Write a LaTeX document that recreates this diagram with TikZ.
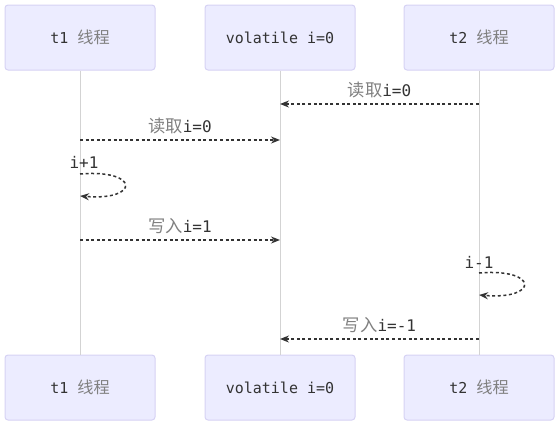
\documentclass[tikz,border=0pt]{standalone}
\usepackage{fontspec}
\setmonofont{DejaVu Sans Mono}
\newfontfamily\cjk[Scale=1.08]{Noto Sans CJK SC}
\usetikzlibrary{arrows.meta}
\definecolor{boxfill}{HTML}{ECECFF}
\definecolor{boxdraw}{HTML}{D6D2F4}
\definecolor{lifec}{HTML}{D3D3D3}
\definecolor{txt}{HTML}{333333}
\definecolor{zhc}{HTML}{808080}
\newcommand{\zh}[1]{{\cjk\color{zhc}#1}}
\begin{document}
\begin{tikzpicture}[x=1pt,y=-1pt,
  actor/.style={draw=boxdraw, fill=boxfill, rounded corners=3pt, line width=1pt,
    minimum width=150pt, minimum height=65pt, inner sep=0pt,
    font=\fontsize{15}{18}\selectfont\ttfamily, text=txt},
  life/.style={draw=lifec, line width=1pt},
  msg/.style={draw=txt, line width=1.5pt, dash pattern=on 3pt off 2.6pt,
    -{Stealth[length=9pt,width=7pt]}},
  lbl/.style={font=\fontsize{16}{18}\selectfont\ttfamily, text=txt, inner sep=0pt}]
\useasboundingbox (0,0) rectangle (558,424);
% actors
\node[actor] (a1) at (80,37.5) {t1 \zh{线程}};
\node[actor] (a2) at (280,37.5) {volatile i=0};
\node[actor] (a3) at (479,37.5) {t2 \zh{线程}};
\node[actor] (b1) at (80,387.5) {t1 \zh{线程}};
\node[actor] (b2) at (280,387.5) {volatile i=0};
\node[actor] (b3) at (479,387.5) {t2 \zh{线程}};
% lifelines
\draw[life] (a1.south) -- (b1.north);
\draw[life] (a2.south) -- (b2.north);
\draw[life] (a3.south) -- (b3.north);
% message points
\coordinate (m1s) at (479,104); \coordinate (m1e) at (280,104);
\coordinate (m2s) at (80,140);  \coordinate (m2e) at (280,140);
\coordinate (l1s) at (80,174);  \coordinate (l1e) at (80,196);
\coordinate (m3s) at (80,240);  \coordinate (m3e) at (280,240);
\coordinate (l2s) at (479,273); \coordinate (l2e) at (479,295);
\coordinate (m4s) at (479,339); \coordinate (m4e) at (280,339);
% messages
\draw[msg] (m1s) -- node[lbl, above=5pt] {\zh{读取}i=0} (m1e);
\draw[msg] (m2s) -- node[lbl, above=5pt] {\zh{读取}i=0} (m2e);
\draw[msg] (l1s) .. controls (140,169) and (140,201) .. (l1e);
\node[lbl] (t1) at (84,162) {i+1};
\draw[msg] (m3s) -- node[lbl, above=5pt] {\zh{写入}i=1} (m3e);
\draw[msg] (l2s) .. controls (539,268) and (539,300) .. (l2e);
\node[lbl] (t2) at (479,262) {i-1};
\draw[msg] (m4s) -- node[lbl, above=5pt] {\zh{写入}i=-1} (m4e);
\end{tikzpicture}
\end{document}
